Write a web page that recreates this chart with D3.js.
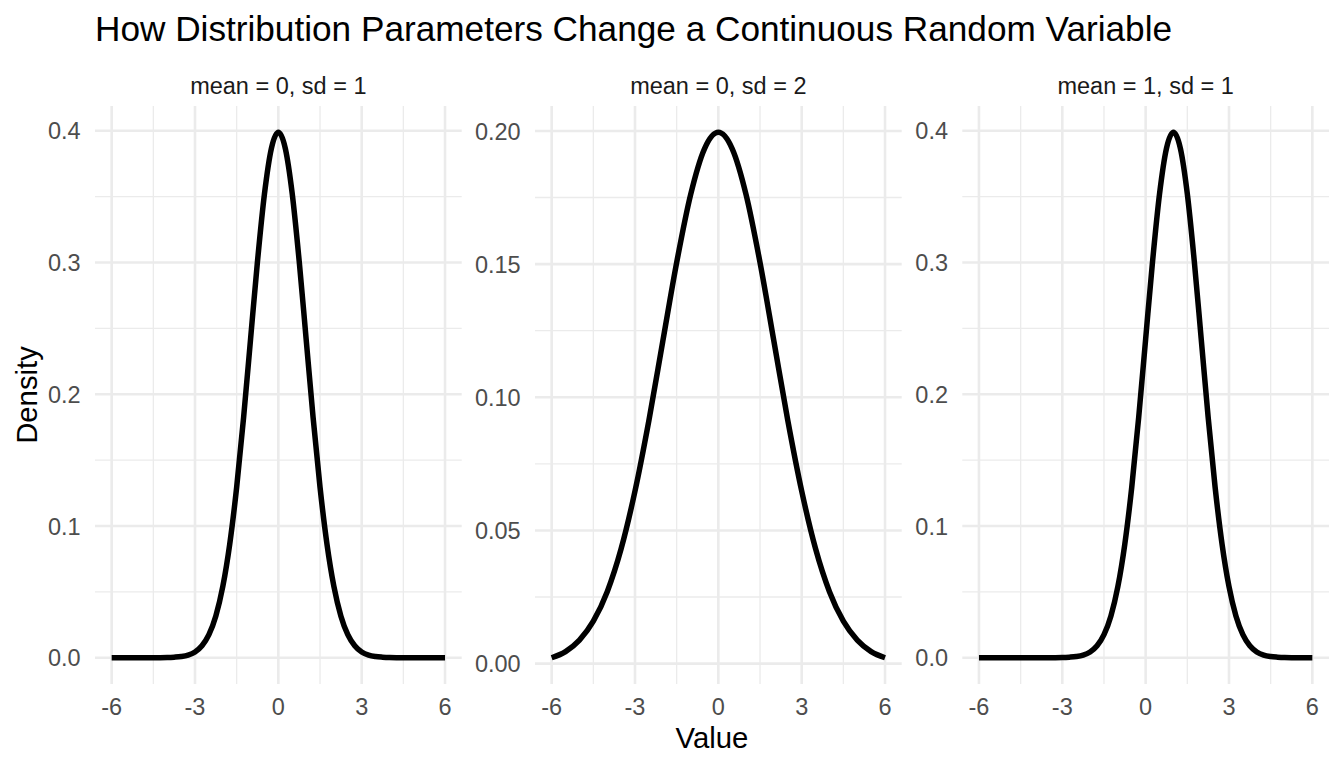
<!DOCTYPE html>
<html>
<head>
<meta charset="utf-8">
<script src="https://cdn.jsdelivr.net/npm/d3@7"></script>
<style>
  html, body { margin: 0; padding: 0; background: #fff; }
  svg { display: block; font-family: "Liberation Sans", Arial, Helvetica, sans-serif; }
</style>
</head>
<body>
<svg id="chart" width="1344" height="768"></svg>
<script>
// ---- Data ----
const chartTitle = "How Distribution Parameters Change a Continuous Random Variable";
const xLabel = "Value";
const yLabel = "Density";
const panelTitles = ["mean = 0, sd = 1", "mean = 0, sd = 2", "mean = 1, sd = 1"];

// x positions for the sd = 1 panels
const xFine = [-6,-5.75,-5.5,-5.25,-5,-4.75,-4.5,-4.25,-4,-3.75,-3.5,-3.25,-3,-2.75,-2.5,-2.25,
  -2,-1.75,-1.5,-1.25,-1,-0.75,-0.5,-0.25,0,0.25,0.5,0.75,1,1.25,1.5,1.75,2,2.25,2.5,2.75,
  3,3.25,3.5,3.75,4,4.25,4.5,4.75,5,5.25,5.5,5.75,6];
// x positions for the sd = 2 panel
const xCoarse = [-6,-5.5,-5,-4.5,-4,-3.5,-3,-2.5,-2,-1.5,-1,-0.5,0,0.5,1,1.5,2,2.5,3,3.5,4,4.5,5,5.5,6];

const density1 = [0,0,0,0,0,0,0,0,0.0001,0.0004,0.0009,0.0020,0.0044,0.0091,0.0175,0.0317,
  0.0540,0.0863,0.1295,0.1826,0.2420,0.3011,0.3521,0.3867,0.3989,0.3867,0.3521,0.3011,0.2420,
  0.1826,0.1295,0.0863,0.0540,0.0317,0.0175,0.0091,0.0044,0.0020,0.0009,0.0004,0.0001,
  0,0,0,0,0,0,0,0];
const density2 = [0.0022,0.0045,0.0088,0.0159,0.0270,0.0431,0.0648,0.0913,0.1210,0.1506,0.1760,
  0.1933,0.1995,0.1933,0.1760,0.1506,0.1210,0.0913,0.0648,0.0431,0.0270,0.0159,0.0088,0.0045,0.0022];
const density3 = [0,0,0,0,0,0,0,0,0,0,0,0,0.0001,0.0004,0.0009,0.0020,0.0044,0.0091,0.0175,0.0317,
  0.0540,0.0863,0.1295,0.1826,0.2420,0.3011,0.3521,0.3867,0.3989,0.3867,0.3521,0.3011,0.2420,
  0.1826,0.1295,0.0863,0.0540,0.0317,0.0175,0.0091,0.0044,0.0020,0.0009,0.0004,0.0001,
  0,0,0,0];

const xTicks = [-6,-3,0,3,6];
const xTickLabels = ["-6","-3","0","3","6"];
const xMinor = [-4.5,-1.5,1.5,4.5];
const yTicksA = [0,0.1,0.2,0.3,0.4];
const yTickLabelsA = ["0.0","0.1","0.2","0.3","0.4"];
const yMinorA = [0.05,0.15,0.25,0.35];
const yTicksB = [0,0.05,0.10,0.15,0.20];
const yTickLabelsB = ["0.00","0.05","0.10","0.15","0.20"];
const yMinorB = [0.025,0.075,0.125,0.175];

// ---- Layout ----
const svg = d3.select("#chart");
const panelTop = 106, panelBottom = 684, panelW = 366.7;
const panelLefts = [95, 535, 962.3];
const panels = [
  {x: xFine, y: density1, yt: yTicksA, ytl: yTickLabelsA, ym: yMinorA},
  {x: xCoarse, y: density2, yt: yTicksB, ytl: yTickLabelsB, ym: yMinorB},
  {x: xFine, y: density3, yt: yTicksA, ytl: yTickLabelsA, ym: yMinorA}
];

function expand(ext) {
  const d = (ext[1] - ext[0]) * 0.05;
  return [ext[0] - d, ext[1] + d];
}

panels.forEach((p, i) => {
  const left = panelLefts[i];
  const x = d3.scaleLinear().domain(expand([-6, 6])).range([left, left + panelW]);
  const y = d3.scaleLinear().domain(expand(d3.extent(p.y))).range([panelBottom, panelTop]);
  const g = svg.append("g");

  // minor grid
  g.selectAll(".xm").data(xMinor).join("line")
    .attr("x1", d => x(d)).attr("x2", d => x(d))
    .attr("y1", panelTop).attr("y2", panelBottom)
    .attr("stroke", "#EBEBEB").attr("stroke-width", 1.3);
  g.selectAll(".ym").data(p.ym).join("line")
    .attr("x1", left).attr("x2", left + panelW)
    .attr("y1", d => y(d)).attr("y2", d => y(d))
    .attr("stroke", "#EBEBEB").attr("stroke-width", 1.3);
  // major grid
  g.selectAll(".xM").data(xTicks).join("line")
    .attr("x1", d => x(d)).attr("x2", d => x(d))
    .attr("y1", panelTop).attr("y2", panelBottom)
    .attr("stroke", "#EBEBEB").attr("stroke-width", 2.6);
  g.selectAll(".yM").data(p.yt).join("line")
    .attr("x1", left).attr("x2", left + panelW)
    .attr("y1", d => y(d)).attr("y2", d => y(d))
    .attr("stroke", "#EBEBEB").attr("stroke-width", 2.6);

  // x tick labels
  g.selectAll(".xl").data(xTicks).join("text")
    .attr("x", d => x(d)).attr("y", 714.5)
    .attr("text-anchor", "middle")
    .attr("font-size", 23.5).attr("fill", "#4D4D4D")
    .text((d, k) => xTickLabels[k]);
  // y tick labels
  g.selectAll(".yl").data(p.yt).join("text")
    .attr("x", left - 14.3).attr("y", d => y(d) + 8.6)
    .attr("text-anchor", "end")
    .attr("font-size", 23.5).attr("fill", "#4D4D4D")
    .text((d, k) => p.ytl[k]);

  // strip title
  g.append("text")
    .attr("x", left + panelW / 2).attr("y", 93.5)
    .attr("text-anchor", "middle")
    .attr("font-size", 23.5).attr("fill", "#1A1A1A")
    .text(panelTitles[i]);

  // curve
  const line = d3.line()
    .x((d, k) => x(p.x[k]))
    .y(d => y(d))
    .curve(d3.curveMonotoneX);
  g.append("path")
    .datum(p.y)
    .attr("d", line)
    .attr("fill", "none")
    .attr("stroke", "#000")
    .attr("stroke-width", 5.5)
    .attr("stroke-linejoin", "round");
});

// titles
svg.append("text")
  .attr("x", 95).attr("y", 40.5)
  .attr("font-size", 35.2).attr("fill", "#000")
  .text(chartTitle);
svg.append("text")
  .attr("x", (panelLefts[0] + panelLefts[2] + panelW) / 2).attr("y", 747.5)
  .attr("text-anchor", "middle")
  .attr("font-size", 29.3).attr("fill", "#000")
  .text(xLabel);
svg.append("text")
  .attr("transform", `translate(36.5, ${(panelTop + panelBottom) / 2}) rotate(-90)`)
  .attr("text-anchor", "middle")
  .attr("font-size", 29.3).attr("fill", "#000")
  .text(yLabel);
</script>
</body>
</html>
